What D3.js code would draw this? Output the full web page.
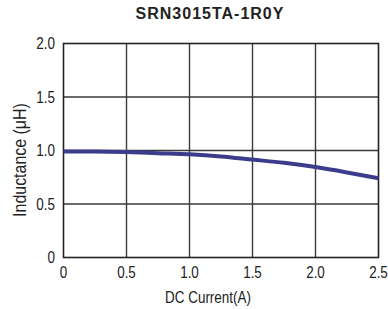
<!DOCTYPE html>
<html><head><meta charset="utf-8">
<script src="https://cdn.jsdelivr.net/npm/d3@7"></script>
<style>body{margin:0;background:#fff}svg{display:block}</style>
</head><body>
<svg id="c" width="388" height="309"></svg>
<script>
const title = "SRN3015TA-1R0Y";
const currentA = [0, 0.25, 0.5, 0.75, 1.0, 1.25, 1.5, 1.75, 2.0, 2.25, 2.5];
const inductanceUH = [0.99, 0.99, 0.985, 0.975, 0.965, 0.945, 0.915, 0.885, 0.845, 0.795, 0.74];
const xTicks = [0, 0.5, 1.0, 1.5, 2.0, 2.5];
const xTickLabels = ["0", "0.5", "1.0", "1.5", "2.0", "2.5"];
const yTicks = [0, 0.5, 1.0, 1.5, 2.0];
const yTickLabels = ["0", "0.5", "1.0", "1.5", "2.0"];
const xTitle = "DC Current(A)";
const yTitle = "Inductance (\u03bcH)";

const svg = d3.select("#c");
const x = d3.scaleLinear().domain([0, 2.5]).range([63.5, 378.5]);
const y = d3.scaleLinear().domain([0, 2]).range([257.5, 43.5]);
const font = "'Liberation Sans',Arial,sans-serif";
const SX = 0.84;

svg.append("text").attr("x", 210).attr("y", 19).attr("text-anchor", "middle")
  .attr("font-family", font).attr("font-weight", "bold")
  .attr("font-size", 16).attr("letter-spacing", 1).attr("fill", "#222").text(title);

const g = svg.append("g");
g.selectAll(".vx").data(xTicks.slice(1, -1)).join("line")
  .attr("x1", d => x(d)).attr("x2", d => x(d)).attr("y1", y(2)).attr("y2", y(0))
  .attr("stroke", "#3a3a3a").attr("stroke-width", 1.4);
g.selectAll(".hy").data(yTicks.slice(1, -1)).join("line")
  .attr("y1", d => y(d)).attr("y2", d => y(d)).attr("x1", x(0)).attr("x2", x(2.5))
  .attr("stroke", "#3a3a3a").attr("stroke-width", 1.4);
g.append("rect").attr("x", x(0)).attr("y", y(2)).attr("width", x(2.5) - x(0)).attr("height", y(0) - y(2))
  .attr("fill", "none").attr("stroke", "#222").attr("stroke-width", 1.6);

const line = d3.line().x((d, i) => x(currentA[i])).y(d => y(d)).curve(d3.curveMonotoneX);
g.append("path").datum(inductanceUH).attr("d", line).attr("fill", "none")
  .attr("stroke", "#3c3c8c").attr("stroke-width", 4);

svg.selectAll(".xt").data(xTicks).join("text")
  .attr("transform", d => `translate(${x(d)},278) scale(${SX},1)`).attr("text-anchor", "middle")
  .attr("font-family", font).attr("font-size", 16).attr("fill", "#222")
  .text((d, i) => xTickLabels[i]);
svg.selectAll(".yt").data(yTicks).join("text")
  .attr("transform", d => `translate(55,${y(d) + 5.5}) scale(${SX},1)`).attr("text-anchor", "end")
  .attr("font-family", font).attr("font-size", 16).attr("fill", "#222")
  .text((d, i) => yTickLabels[i]);

svg.append("text").attr("transform", `translate(208,303) scale(${SX},1)`).attr("text-anchor", "middle")
  .attr("font-family", font).attr("font-size", 16).attr("fill", "#222").text(xTitle);
svg.append("text").attr("transform", `translate(26,160) rotate(-90) scale(${SX},1)`).attr("text-anchor", "middle")
  .attr("font-family", font).attr("font-size", 19).attr("fill", "#222").text(yTitle);
</script>
</body></html>
